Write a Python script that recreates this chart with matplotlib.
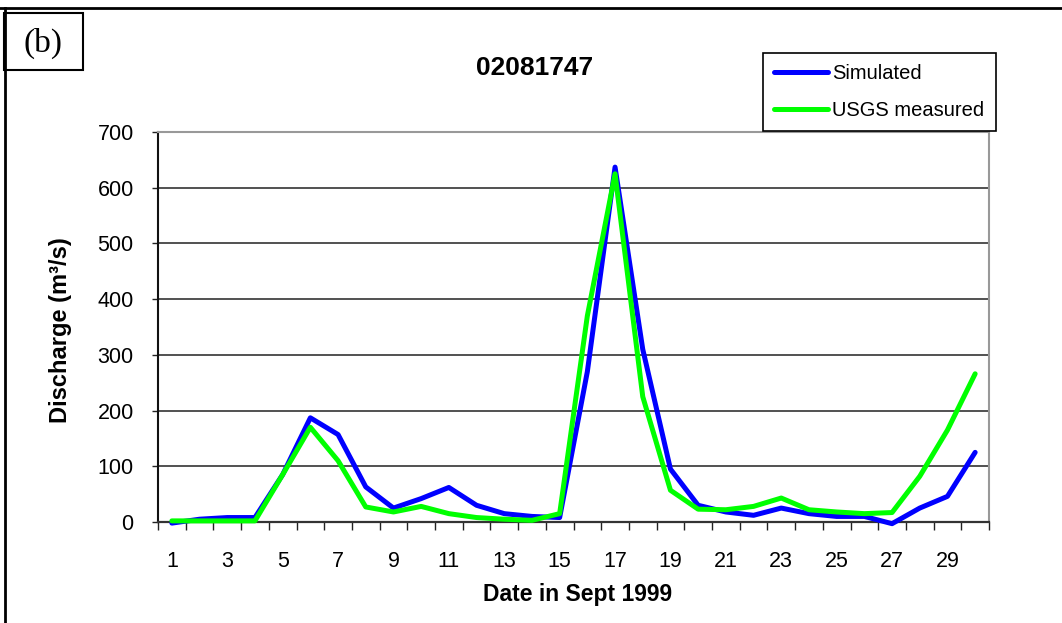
import numpy as np
import matplotlib
matplotlib.use('Agg')
from matplotlib import pyplot as plt
from matplotlib.lines import Line2D
from matplotlib.patches import Rectangle

# days of September 1999
days = list(range(1, 31))

# simulated discharge (m3/s)
simulated = [-2, 5, 8, 8, 85, 187, 157, 63, 25, 42,
             62, 30, 15, 10, 8, 270, 637, 310, 95, 30,
             18, 12, 25, 15, 10, 10, -3, 25, 46, 125]

# USGS measured discharge (m3/s)
measured = [2, 2, 2, 2, 85, 170, 110, 27, 18, 28,
            15, 8, 5, 3, 15, 370, 625, 225, 57, 23,
            22, 28, 43, 22, 18, 15, 17, 82, 165, 266]

station = '02081747'
y_ticks = [0, 100, 200, 300, 400, 500, 600, 700]

plt.rcParams['font.family'] = ['Liberation Sans', 'DejaVu Sans']

W, H = 1062, 623
fig = plt.figure(figsize=(W / 100, H / 100), dpi=100)
fig.patch.set_facecolor('white')

# plot area in pixel coords
left, right, top, bottom = 158, 989, 132, 522
ax = fig.add_axes([left / W, (H - bottom) / H, (right - left) / W, (bottom - top) / H])

ax.plot(days, simulated, color='#0000ff', lw=3.6, label='Simulated', clip_on=False,
        solid_capstyle='round', solid_joinstyle='round', zorder=3)
ax.plot(days, measured, color='#00ff00', lw=3.6, label='USGS measured', clip_on=False,
        solid_capstyle='round', solid_joinstyle='round', zorder=4)

ax.set_xlim(0.5, 30.5)
ax.set_ylim(0, 700)

# category axis: tick marks between days, labels on odd days
ax.set_xticks(np.arange(0.5, 31, 1))
ax.set_xticklabels([])
ax.set_xticks([d for d in days if d % 2 == 1], minor=True)
ax.set_xticklabels([str(d) for d in days if d % 2 == 1], minor=True)
ax.tick_params(axis='x', which='major', direction='out', length=6, width=1, color='#222222')
ax.tick_params(axis='x', which='minor', length=0, pad=21, labelsize=15.5)

ax.set_yticks(y_ticks)
ax.set_yticklabels([str(v) for v in y_ticks])
ax.tick_params(axis='y', direction='out', length=4.5, width=1, pad=13, labelsize=15.5, color='#222222')

ax.yaxis.grid(True, color='#333333', lw=1.2)
ax.set_axisbelow(True)

ax.spines['left'].set_color('#111111')
ax.spines['left'].set_linewidth(1.5)
ax.spines['bottom'].set_color('#333333')
ax.spines['bottom'].set_linewidth(1.6)
ax.spines['top'].set_color('#999999')
ax.spines['top'].set_linewidth(1.5)
ax.spines['right'].set_color('#999999')
ax.spines['right'].set_linewidth(1.5)

# titles and labels
fig.text(535 / W, 1 - 68 / H, station, ha='center', va='center', fontsize=19, fontweight='bold')
fig.text(578 / W, 1 - 595 / H, 'Date in Sept 1999', ha='center', va='center', fontsize=16.5, fontweight='bold')
fig.text(60 / W, 1 - 330 / H, 'Discharge (m³/s)', ha='center', va='center', rotation=90,
         fontsize=17, fontweight='bold')

# legend
leg = ax.legend(loc='upper left', bbox_to_anchor=(763 / W, 1 - 53 / H), bbox_transform=fig.transFigure,
                borderaxespad=0, fancybox=False, framealpha=1, edgecolor='black', fontsize=14.5,
                handlelength=2.7, handletextpad=0.2, labelspacing=0.9, borderpad=0.55)
leg.get_frame().set_linewidth(1.2)

# outer frame of the panel and the (b) box
fig.add_artist(Line2D([0, 1], [1 - 8 / H, 1 - 8 / H], color='black', lw=2, transform=fig.transFigure))
fig.add_artist(Line2D([5 / W, 5 / W], [0, 1 - 8 / H], color='black', lw=2, transform=fig.transFigure))
fig.add_artist(Rectangle((4 / W, 1 - 70 / H), 79 / W, 57 / H, transform=fig.transFigure,
                         facecolor='white', edgecolor='black', lw=1.5))
fig.text(43 / W, 1 - 43 / H, '(b)', ha='center', va='center', fontsize=24, family='Liberation Serif')

fig.savefig('out.png', dpi=100)
